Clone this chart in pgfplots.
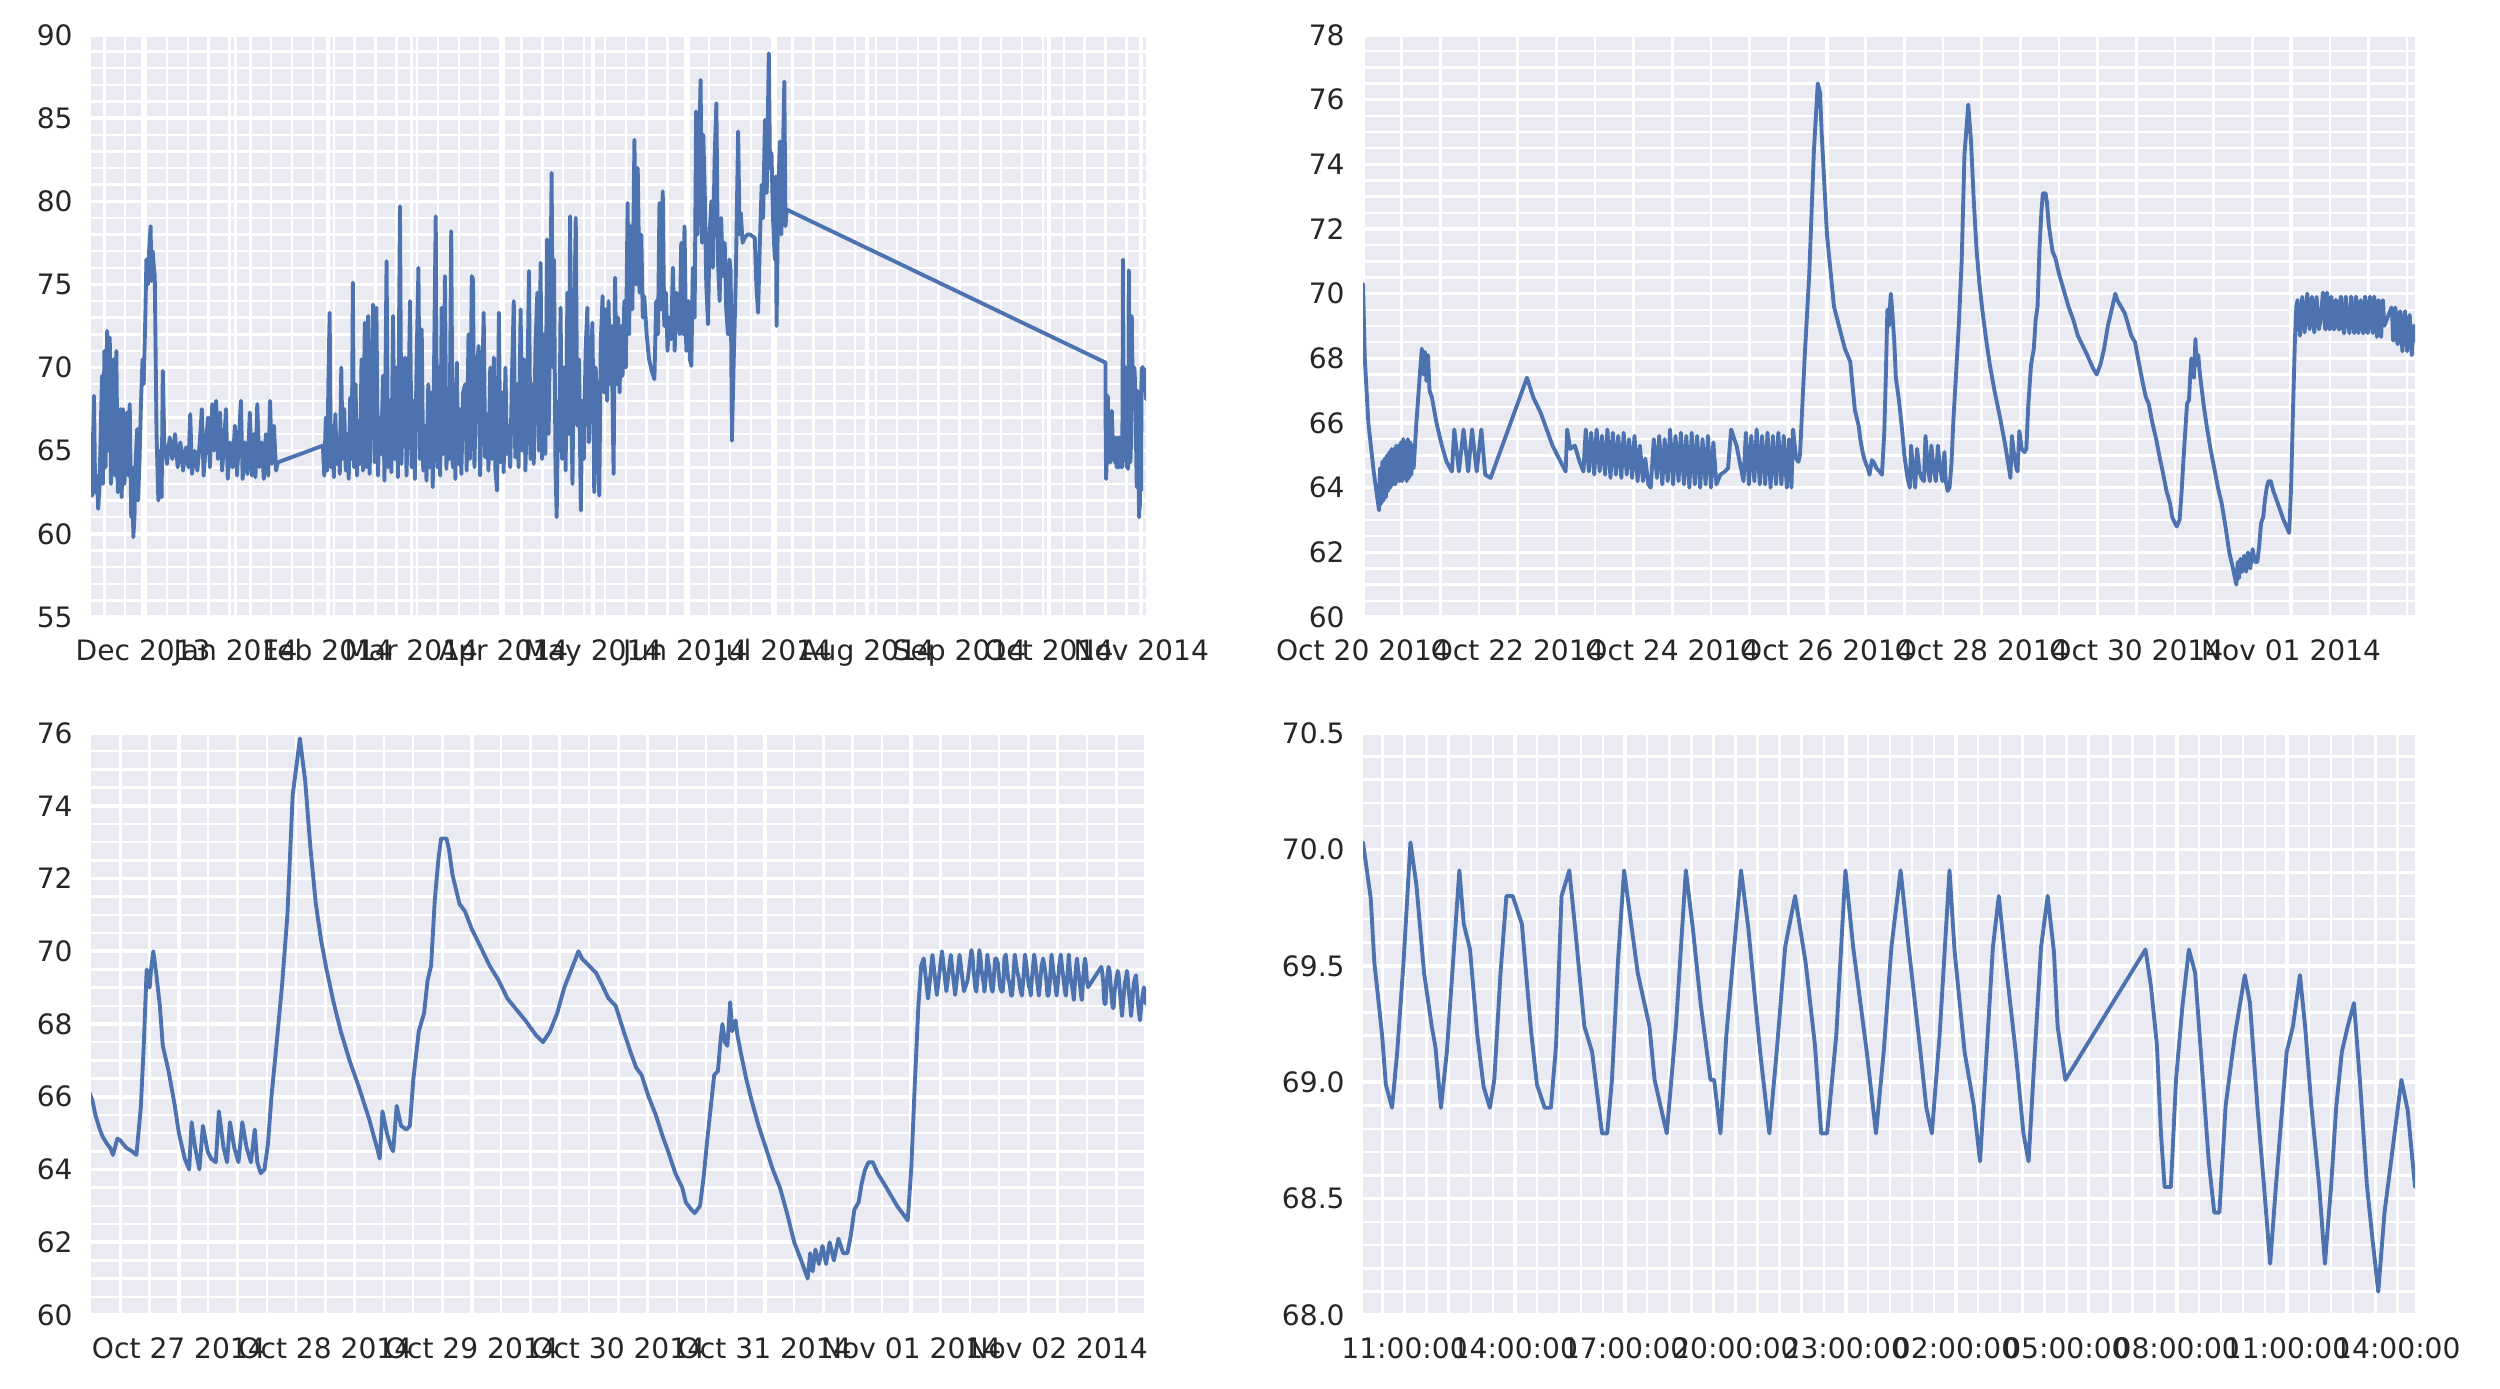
\documentclass[border=0pt]{standalone}
\usepackage{fontspec}
\setmainfont{DejaVu Sans}
\usepackage{pgfplots}
\usepackage{pgfplotstable}
\pgfplotsset{compat=1.18}
\definecolor{sbbg}{HTML}{EAEAF2}
\definecolor{sbblue}{HTML}{4C72B0}
\definecolor{sbtext}{HTML}{262626}

% ---- top-left: days since 2013-11-01 ----
\pgfplotstableread[row sep=\\]{
d v\\
12.5 66.0\\ 12.9 62.3\\ 13.5 68.3\\ 13.9 62.5\\ 14.5 63.5\\ 14.9 61.5\\ 15.4 63.0\\ 15.8 66.5\\ 16.2 69.5\\ 16.5 63.0\\
17.0 71.0\\ 17.4 64.0\\ 17.9 72.2\\ 18.3 65.0\\ 18.8 71.8\\ 19.2 63.0\\ 19.7 67.0\\ 20.1 70.5\\ 20.6 63.5\\ 21.0 71.0\\
21.5 62.5\\ 21.9 66.0\\ 22.4 67.5\\ 22.8 62.2\\ 23.3 67.5\\ 23.7 63.0\\ 24.2 64.5\\ 24.6 67.3\\ 25.1 63.5\\ 25.5 67.8\\
26.0 61.0\\ 26.4 64.0\\ 26.7 59.8\\ 27.1 61.0\\ 27.5 64.5\\ 28.0 66.3\\ 28.3 62.0\\ 28.8 64.5\\ 29.3 68.0\\ 29.8 70.5\\
30.2 69.0\\ 30.7 72.8\\ 31.1 76.5\\ 31.6 75.0\\ 32.0 77.0\\ 32.5 78.5\\ 32.8 75.2\\ 33.2 77.0\\ 33.6 76.0\\ 33.9 75.5\\
34.5 66.0\\ 35.1 62.0\\ 35.6 65.0\\ 36.2 62.2\\ 36.6 69.8\\ 37.1 65.5\\
38.0 64.2\\ 38.9 65.8\\ 39.8 64.5\\ 40.7 66.0\\ 41.6 64.0\\ 42.5 65.5\\ 43.4 63.8\\ 44.3 65.2\\ 45.2 64.0\\ 45.8 67.2\\
46.4 63.6\\ 47.3 65.0\\ 48.2 63.8\\ 49.0 65.5\\ 49.7 67.5\\ 50.3 63.5\\ 51.2 65.8\\ 51.8 67.0\\ 52.4 64.0\\ 53.2 67.8\\
53.8 65.0\\ 54.5 68.0\\ 55.1 64.5\\ 55.8 67.3\\ 56.5 63.8\\ 57.2 65.5\\ 57.8 67.5\\ 58.4 63.3\\ 59.2 65.5\\ 60.0 64.0\\
60.8 66.5\\ 61.5 63.5\\ 62.2 65.8\\ 62.8 68.0\\ 63.4 63.3\\ 64.2 65.5\\ 65.0 63.6\\ 65.8 67.3\\ 66.5 63.5\\ 67.2 66.0\\
67.7 63.4\\ 68.3 67.8\\ 69.0 64.0\\ 69.8 65.5\\ 70.5 63.3\\ 71.2 66.0\\ 72.0 63.5\\ 72.6 68.0\\ 73.2 64.2\\ 73.9 66.5\\
74.6 63.8\\ 75.2 64.3\\ 90.3 65.3\\
90.8 63.5\\ 91.3 67.0\\ 91.8 63.8\\ 92.2 69.5\\ 92.6 73.3\\ 93.0 64.0\\ 93.5 66.5\\ 94.0 63.4\\ 94.5 67.2\\ 95.0 64.2\\
95.5 65.8\\ 96.0 63.6\\ 96.5 70.0\\ 97.0 64.5\\ 97.5 67.5\\ 98.0 63.8\\ 98.5 66.0\\ 99.0 63.3\\ 99.5 68.2\\ 100.0 64.5\\
100.4 75.1\\ 100.8 64.0\\ 101.3 69.0\\ 101.8 63.5\\ 102.3 66.8\\ 102.8 64.2\\ 103.3 70.5\\ 103.8 63.8\\ 104.4 72.7\\ 104.9 64.0\\
105.5 73.1\\ 106.0 63.6\\ 106.6 68.5\\ 107.2 73.8\\ 107.7 64.3\\ 108.3 73.6\\ 108.8 63.5\\ 109.4 67.0\\ 109.9 64.8\\ 110.5 69.5\\
111.0 63.2\\ 111.7 76.4\\ 112.2 64.0\\ 112.8 68.0\\ 113.3 63.7\\ 113.9 73.1\\ 114.4 64.5\\ 115.0 70.0\\ 115.5 63.4\\ 116.2 79.7\\
116.7 64.2\\ 117.3 69.0\\ 117.9 70.6\\ 118.4 63.5\\ 119.0 67.5\\ 119.6 74.0\\ 120.1 64.0\\ 120.7 68.0\\ 121.2 63.3\\ 121.8 70.5\\
122.4 76.0\\ 122.9 64.5\\ 123.5 72.3\\ 124.0 63.8\\ 124.6 66.5\\ 125.1 63.2\\ 125.7 69.0\\ 126.2 64.0\\ 126.7 68.5\\ 127.2 62.8\\
127.7 71.0\\ 128.2 79.1\\ 128.7 64.0\\ 129.2 70.0\\ 129.7 63.5\\ 130.2 73.6\\ 130.7 64.8\\ 131.3 75.5\\ 131.8 63.9\\ 132.3 68.0\\
132.8 64.5\\ 133.4 78.2\\ 133.9 64.0\\ 134.4 69.0\\ 134.8 63.3\\ 135.3 70.3\\ 135.8 64.2\\ 136.3 67.5\\ 136.8 63.6\\ 137.4 68.5\\
138.1 69.0\\ 138.6 63.8\\ 139.2 72.0\\ 139.7 64.5\\ 140.3 75.5\\ 140.7 75.3\\ 141.2 64.0\\ 141.8 69.5\\ 142.6 71.3\\ 143.1 63.5\\
143.7 68.0\\ 144.3 73.3\\ 144.8 64.6\\ 145.4 67.2\\ 145.9 63.8\\ 146.5 70.0\\ 147.1 64.5\\ 147.7 70.6\\ 148.2 63.9\\ 148.8 62.6\\
149.4 73.3\\ 149.9 64.3\\ 150.5 68.5\\ 151.0 63.7\\ 151.6 70.0\\ 152.1 64.8\\ 152.7 66.5\\ 153.2 64.0\\ 153.8 69.5\\ 154.4 74.0\\
154.9 64.6\\ 155.5 69.0\\ 156.0 64.0\\ 156.7 73.5\\ 157.2 65.0\\ 157.8 70.5\\ 158.3 63.8\\ 158.9 68.0\\ 159.5 75.8\\ 160.0 64.5\\
160.6 69.0\\ 161.1 64.2\\ 161.7 71.5\\ 162.3 74.5\\ 162.8 65.0\\ 163.4 76.3\\ 163.9 64.5\\ 164.5 72.0\\ 165.0 64.8\\ 165.6 77.7\\
166.1 66.0\\ 166.6 73.0\\ 167.1 81.7\\ 167.5 70.0\\ 167.9 76.5\\ 168.4 64.0\\ 168.8 61.0\\ 169.3 68.0\\ 169.7 65.0\\ 170.1 73.6\\
170.6 64.5\\ 171.2 70.0\\ 171.8 63.8\\ 172.4 74.5\\ 172.9 66.0\\ 173.3 79.1\\ 173.7 68.0\\ 174.1 63.0\\ 174.6 72.0\\ 175.2 79.0\\
175.7 66.5\\ 176.3 70.5\\ 176.9 61.4\\ 177.4 68.0\\ 177.9 64.5\\ 178.5 71.0\\ 179.1 73.6\\ 179.6 65.5\\ 180.2 70.0\\ 180.8 72.7\\
181.4 62.5\\ 181.9 70.0\\ 182.5 66.0\\ 183.1 62.3\\ 183.6 71.5\\ 184.2 74.3\\ 184.7 68.5\\ 185.2 73.5\\ 185.7 68.0\\ 186.2 74.0\\
186.7 69.0\\ 187.2 72.5\\ 187.9 63.6\\ 188.4 75.4\\ 188.9 69.0\\ 189.4 73.0\\ 189.9 68.5\\ 190.4 72.5\\ 190.9 69.5\\ 191.5 74.0\\
192.0 70.0\\ 192.6 79.9\\ 193.1 72.0\\ 193.6 78.5\\ 194.2 73.5\\ 194.9 83.7\\ 195.4 75.0\\ 196.0 82.0\\ 196.6 74.5\\ 197.2 78.0\\
197.7 73.0\\ 198.2 74.3\\ 199.0 72.0\\ 199.8 70.5\\ 200.7 69.8\\ 201.6 69.3\\ 202.2 74.0\\ 202.8 72.0\\ 203.3 79.9\\ 203.8 73.5\\
204.4 80.6\\ 204.9 72.5\\ 205.5 74.5\\ 206.0 71.0\\ 206.6 73.0\\ 207.2 71.7\\ 207.8 76.0\\ 208.4 71.0\\ 209.0 74.5\\ 209.5 73.1\\
210.1 72.0\\ 210.6 77.5\\ 211.2 72.0\\ 211.7 78.5\\ 212.3 71.0\\ 213.0 74.0\\ 213.5 70.5\\ 214.0 70.1\\ 214.5 76.0\\ 215.1 73.0\\
215.6 85.4\\ 216.1 78.0\\ 216.6 83.0\\ 217.1 87.3\\ 217.6 77.5\\ 218.0 84.0\\ 218.5 80.5\\ 219.0 75.0\\ 219.6 72.6\\ 220.1 78.0\\
220.7 80.0\\ 221.2 76.0\\ 221.8 82.5\\ 222.4 85.9\\ 222.9 76.5\\ 223.5 74.0\\ 224.0 79.0\\ 224.6 75.5\\ 225.2 77.5\\ 225.7 73.5\\
226.3 72.0\\ 226.8 76.5\\ 227.2 75.8\\ 227.6 65.6\\ 228.3 71.0\\ 228.9 75.2\\ 229.7 84.2\\ 230.2 78.0\\ 230.6 79.3\\ 231.2 77.5\\
231.9 77.8\\ 232.8 78.0\\ 233.6 78.0\\ 234.5 77.9\\ 235.3 77.8\\ 235.8 75.0\\ 236.4 73.3\\ 237.0 77.5\\ 237.6 81.0\\ 238.1 79.0\\
238.7 84.9\\ 239.3 80.5\\ 240.0 88.9\\ 240.4 82.0\\ 240.9 82.9\\ 241.4 79.0\\ 242.0 76.5\\ 242.3 81.5\\ 242.6 72.5\\ 243.1 80.0\\
243.7 83.6\\ 244.2 78.0\\ 244.7 82.5\\ 245.2 87.2\\ 245.6 78.5\\ 246.0 79.5\\ 353.0 70.3\\
}\tldata

% ---- Oct 20 onwards: days since 2014-10-20 00:00 ----
\pgfplotstableread[row sep=\\]{
d v\\
0.000 70.3\\ 0.023 68.0\\ 0.069 66.0\\ 0.138 64.5\\ 0.207 63.3\\ 0.22 64.6\\ 0.235 63.5\\ 0.25 64.8\\ 0.265 63.6\\ 0.28 64.9\\
0.295 63.7\\ 0.31 65.0\\ 0.325 63.9\\ 0.34 65.1\\ 0.355 64.0\\ 0.37 65.2\\ 0.385 64.1\\ 0.40 65.2\\ 0.415 64.1\\ 0.43 65.3\\
0.445 64.2\\ 0.46 65.3\\ 0.475 64.2\\ 0.49 65.4\\ 0.505 64.2\\ 0.52 65.5\\ 0.535 64.3\\ 0.55 65.4\\ 0.565 64.2\\ 0.58 65.5\\
0.595 64.3\\ 0.61 65.4\\ 0.625 64.4\\ 0.64 65.3\\ 0.655 64.6\\ 0.69 66.0\\ 0.735 67.5\\ 0.76 68.3\\ 0.78 67.5\\ 0.80 68.2\\
0.82 67.3\\ 0.84 68.1\\ 0.86 67.0\\ 0.89 66.8\\ 0.95 66.0\\ 1.02 65.3\\ 1.08 64.8\\ 1.15 64.5\\ 1.18 65.8\\ 1.24 64.5\\
1.30 65.8\\ 1.36 64.5\\ 1.41 65.8\\ 1.47 64.5\\ 1.53 65.8\\ 1.58 64.4\\ 1.65 64.3\\ 2.12 67.4\\ 2.20 66.8\\ 2.30 66.3\\
2.45 65.3\\ 2.62 64.5\\ 2.64 65.8\\ 2.68 65.2\\ 2.74 65.3\\ 2.80 64.8\\ 2.85 64.5\\
2.88 65.8\\ 2.92 64.5\\ 2.95 65.7\\ 2.99 64.4\\ 3.02 65.8\\ 3.06 64.5\\ 3.09 65.6\\ 3.13 64.4\\ 3.16 65.8\\ 3.20 64.3\\
3.23 65.7\\ 3.27 64.4\\ 3.30 65.6\\ 3.34 64.3\\ 3.37 65.7\\ 3.41 64.4\\ 3.44 65.5\\ 3.48 64.3\\ 3.51 65.6\\ 3.55 64.2\\
3.58 65.3\\ 3.62 64.2\\ 3.65 64.9\\ 3.69 64.1\\ 3.72 64.0\\
3.76 65.5\\ 3.80 64.3\\ 3.83 65.6\\ 3.87 64.1\\ 3.90 65.5\\ 3.94 64.2\\ 3.97 65.8\\ 4.01 64.1\\ 4.04 65.6\\ 4.08 64.2\\
4.11 65.7\\ 4.15 64.1\\ 4.18 65.6\\ 4.22 64.0\\ 4.25 65.7\\ 4.29 64.1\\ 4.32 65.6\\ 4.36 64.0\\ 4.39 65.5\\ 4.43 64.1\\
4.46 65.6\\ 4.50 64.0\\ 4.53 65.4\\ 4.57 64.1\\ 4.62 64.4\\ 4.68 64.5\\ 4.72 64.6\\ 4.76 65.8\\ 4.83 65.3\\ 4.92 64.2\\
4.95 65.7\\ 4.99 64.1\\ 5.02 65.6\\ 5.06 64.2\\ 5.09 65.8\\ 5.13 64.1\\ 5.16 65.6\\ 5.20 64.1\\ 5.23 65.7\\ 5.27 64.0\\
5.30 65.6\\ 5.34 64.1\\ 5.37 65.7\\ 5.41 64.1\\ 5.44 65.6\\ 5.48 64.0\\ 5.51 65.5\\ 5.54 64.0\\ 5.56 65.8\\ 5.60 64.9\\
5.63 64.8\\ 5.65 65.0\\ 5.71 68.0\\ 5.77 70.6\\ 5.83 74.4\\ 5.88 76.5\\ 5.91 76.2\\ 5.93 75.0\\ 6.00 71.8\\ 6.09 69.6\\
6.23 68.3\\ 6.30 67.9\\ 6.36 66.4\\ 6.41 65.9\\ 6.43 65.5\\ 6.46 65.1\\ 6.48 64.9\\ 6.51 64.7\\ 6.53 64.6\\ 6.55 64.4\\
6.58 64.85\\ 6.60 64.8\\ 6.64 64.6\\ 6.68 64.5\\ 6.71 64.4\\ 6.74 65.7\\ 6.76 67.4\\ 6.78 69.5\\ 6.79 69.3\\ 6.80 69.0\\
6.81 69.5\\ 6.825 70.0\\ 6.845 69.4\\ 6.87 68.5\\ 6.89 67.4\\ 6.93 66.7\\ 6.97 65.8\\ 7.00 65.0\\ 7.04 64.3\\ 7.07 64.0\\
7.087 65.3\\ 7.111 64.6\\ 7.14 64.0\\ 7.164 65.2\\ 7.196 64.5\\ 7.22 64.3\\ 7.252 64.2\\ 7.273 65.6\\ 7.305 64.6\\ 7.329 64.2\\
7.349 65.3\\ 7.378 64.6\\ 7.407 64.2\\ 7.433 65.3\\ 7.462 64.6\\ 7.492 64.2\\ 7.518 65.1\\ 7.535 64.2\\ 7.559 63.9\\ 7.584 64.0\\
7.608 64.7\\ 7.632 66.0\\ 7.668 67.5\\ 7.705 69.1\\ 7.741 71.0\\ 7.777 74.3\\ 7.809 75.3\\ 7.826 75.85\\ 7.843 75.3\\ 7.862 74.7\\
7.899 72.8\\ 7.935 71.3\\ 7.971 70.3\\ 8.008 69.5\\ 8.056 68.6\\ 8.105 67.8\\ 8.165 67.0\\ 8.226 66.3\\ 8.298 65.4\\ 8.359 64.5\\
8.371 64.3\\ 8.39 65.6\\ 8.42 65.0\\ 8.449 64.6\\ 8.463 64.5\\ 8.487 65.75\\ 8.517 65.2\\ 8.553 65.1\\ 8.577 65.2\\ 8.601 66.5\\
8.638 67.8\\ 8.674 68.3\\ 8.698 69.2\\ 8.722 69.6\\ 8.747 71.4\\ 8.771 72.5\\ 8.79 73.1\\ 8.827 73.1\\ 8.844 72.8\\ 8.868 72.1\\
8.916 71.3\\ 8.953 71.1\\ 9.001 70.6\\ 9.05 70.2\\ 9.122 69.6\\ 9.183 69.2\\ 9.243 68.7\\ 9.304 68.4\\ 9.365 68.1\\ 9.437 67.7\\
9.486 67.5\\ 9.534 67.8\\ 9.583 68.3\\ 9.631 69.0\\ 9.68 69.5\\ 9.728 70.0\\ 9.752 69.8\\ 9.801 69.6\\ 9.849 69.4\\ 9.886 69.1\\
9.934 68.7\\ 9.982 68.5\\ 10.037 67.8\\ 10.086 67.2\\ 10.122 66.8\\ 10.159 66.6\\ 10.207 66.0\\ 10.256 65.5\\ 10.304 64.9\\ 10.34 64.5\\
10.389 63.9\\ 10.437 63.5\\ 10.461 63.1\\ 10.498 62.9\\ 10.522 62.8\\ 10.558 63.0\\ 10.583 63.8\\ 10.607 64.8\\ 10.631 65.7\\ 10.655 66.6\\
10.68 66.7\\ 10.697 67.5\\ 10.711 68.0\\ 10.728 67.5\\ 10.745 67.4\\ 10.764 68.6\\ 10.777 67.8\\ 10.801 68.1\\ 10.813 67.7\\ 10.837 67.2\\
10.873 66.5\\ 10.91 65.9\\ 10.958 65.2\\ 11.007 64.6\\ 11.055 64.0\\ 11.104 63.5\\ 11.152 62.8\\ 11.201 62.0\\ 11.249 61.5\\ 11.293 61.0\\
11.31 61.7\\ 11.327 61.2\\ 11.346 61.8\\ 11.37 61.4\\ 11.394 61.9\\ 11.419 61.4\\ 11.443 62.0\\ 11.472 61.5\\ 11.503 62.1\\ 11.535 61.7\\
11.564 61.7\\ 11.588 62.2\\ 11.612 62.9\\ 11.641 63.1\\ 11.661 63.6\\ 11.685 64.0\\ 11.709 64.2\\ 11.738 64.2\\ 11.77 63.9\\ 11.831 63.5\\
11.903 63.0\\ 11.94 62.8\\ 11.976 62.6\\ 12.0 64.0\\ 12.024 66.3\\ 12.049 68.5\\ 12.068 69.6\\ 12.085 69.8\\ 12.115 68.7\\ 12.145 69.9\\
12.175 68.8\\ 12.21 70.0\\ 12.24 68.9\\ 12.27 69.9\\ 12.30 68.8\\ 12.33 69.9\\ 12.36 68.9\\ 12.385 69.2\\ 12.4113 70.03\\
}\octdata

% ---- last day: hours since 2014-11-01 00:00 ----
\pgfplotstableread[row sep=\\]{
h v\\
9.87 70.03\\ 10.08 69.79\\ 10.18 69.51\\ 10.29 69.35\\ 10.39 69.20\\ 10.49 68.99\\ 10.66 68.89\\ 10.80 69.13\\ 10.97 69.51\\ 11.16 70.03\\
11.32 69.85\\ 11.53 69.47\\ 11.74 69.24\\ 11.84 69.15\\ 11.99 68.89\\ 12.15 69.13\\ 12.32 69.52\\ 12.49 69.91\\ 12.61 69.68\\ 12.78 69.57\\
12.98 69.20\\ 13.15 68.98\\ 13.32 68.89\\ 13.44 69.01\\ 13.61 69.47\\ 13.77 69.80\\ 13.94 69.80\\ 14.19 69.68\\ 14.44 69.22\\ 14.60 68.99\\
14.81 68.89\\ 14.98 68.89\\ 15.12 69.16\\ 15.27 69.80\\ 15.48 69.91\\ 15.64 69.66\\ 15.89 69.24\\ 16.10 69.13\\ 16.37 68.78\\ 16.51 68.78\\
16.64 69.01\\ 16.80 69.51\\ 16.97 69.91\\ 17.18 69.66\\ 17.34 69.47\\ 17.66 69.24\\ 17.80 69.01\\ 18.13 68.78\\ 18.38 69.24\\ 18.65 69.91\\
18.84 69.66\\ 19.05 69.34\\ 19.32 69.01\\ 19.42 69.01\\ 19.59 68.78\\ 19.75 69.20\\ 20.15 69.91\\ 20.35 69.66\\ 20.67 69.13\\ 20.92 68.78\\
21.12 69.13\\ 21.35 69.58\\ 21.62 69.80\\ 21.91 69.51\\ 22.16 69.16\\ 22.33 68.78\\ 22.49 68.78\\ 22.74 69.20\\ 22.99 69.91\\ 23.20 69.58\\
23.57 69.13\\ 23.82 68.78\\ 24.03 69.13\\ 24.24 69.58\\ 24.49 69.91\\ 24.71 69.58\\ 25.03 69.13\\ 25.19 68.89\\ 25.34 68.78\\ 25.55 69.20\\
25.82 69.91\\ 25.96 69.56\\ 26.23 69.13\\ 26.48 68.90\\ 26.65 68.66\\ 26.83 69.13\\ 27.00 69.58\\ 27.16 69.80\\ 27.35 69.51\\ 27.62 69.13\\
27.83 68.78\\ 27.97 68.66\\ 28.14 69.13\\ 28.31 69.58\\ 28.49 69.80\\ 28.66 69.56\\ 28.76 69.24\\ 28.97 69.01\\ 31.15 69.57\\ 31.30 69.41\\
31.46 69.16\\ 31.57 68.78\\ 31.67 68.55\\ 31.84 68.55\\ 31.98 69.01\\ 32.15 69.32\\ 32.33 69.57\\ 32.50 69.47\\ 32.71 69.01\\ 32.87 68.66\\
33.02 68.44\\ 33.16 68.44\\ 33.33 68.90\\ 33.58 69.20\\ 33.85 69.46\\ 33.99 69.34\\ 34.20 68.88\\ 34.37 68.56\\ 34.54 68.22\\ 34.70 68.56\\
34.99 69.13\\ 35.16 69.24\\ 35.35 69.46\\ 35.49 69.24\\ 35.66 68.90\\ 35.87 68.56\\ 36.03 68.22\\ 36.20 68.56\\ 36.34 68.90\\ 36.49 69.13\\
36.65 69.24\\ 36.82 69.34\\ 36.98 69.01\\ 37.17 68.56\\ 37.32 68.33\\ 37.48 68.10\\ 37.65 68.44\\ 37.82 68.65\\ 37.94 68.80\\ 38.11 69.01\\
38.28 68.88\\ 38.48 68.55\\
}\novdata

\pgfplotsset{
  sb/.style={
    scale only axis,
    anchor=south west,
    axis background/.style={fill=sbbg},
    axis line style={draw=none},
    major tick length=0pt, minor tick length=0pt,
    grid=both,
    major grid style={white, line width=1.0pt},
    minor grid style={white, line width=0.7pt},
    tick label style={font=\fontsize{8}{9.6}\selectfont, text=sbtext},
    /pgf/number format/assume math mode=true,
    yticklabel style={xshift=-0.06cm},
    xticklabel style={yshift=-0.1cm},
  },
  sbline/.style={color=sbblue, line width=1.1pt, line join=round, line cap=round, no markers},
}

\begin{document}
\begin{tikzpicture}
\useasboundingbox (0,0) rectangle (25cm,13.88cm);

% top-left
\begin{axis}[sb, at={(0.91cm,7.71cm)}, width=10.55cm, height=5.82cm,
  xmin=12.5, xmax=366.6, ymin=55, ymax=90,
  xtick={30,61,92,120,151,181,212,242,273,304,334,365},
  xticklabels={Dec 2013,Jan 2014,Feb 2014,Mar 2014,Apr 2014,May 2014,Jun 2014,Jul 2014,Aug 2014,Sep 2014,Oct 2014,Nov 2014},
  minor xtick={17,24,...,366},
  ytick={55,60,...,90}, minor y tick num=4]
\addplot[sbline] table {\tldata};
\addplot[sbline] table[x expr=353+\thisrowno{0}] {\octdata};
\addplot[sbline] table[x expr=365+\thisrowno{0}/24] {\novdata};
\end{axis}

% top-right
\begin{axis}[sb, at={(13.63cm,7.71cm)}, width=10.52cm, height=5.82cm,
  xmin=0, xmax=13.603, ymin=60, ymax=78,
  xtick={0,2,...,12},
  xticklabels={Oct 20 2014,Oct 22 2014,Oct 24 2014,Oct 26 2014,Oct 28 2014,Oct 30 2014,Nov 01 2014},
  minor xtick={0.5,1,...,13.5},
  ytick={60,62,...,78}, minor y tick num=3]
\addplot[sbline] table {\octdata};
\addplot[sbline] table[x expr=12+\thisrowno{0}/24] {\novdata};
\end{axis}

% bottom-left
\begin{axis}[sb, at={(0.91cm,0.73cm)}, width=10.55cm, height=5.82cm,
  xmin=6.40, xmax=13.603, ymin=60, ymax=76,
  xtick={7,8,...,13},
  xticklabels={Oct 27 2014,Oct 28 2014,Oct 29 2014,Oct 30 2014,Oct 31 2014,Nov 01 2014,Nov 02 2014},
  minor xtick={6.6,6.8,...,13.6},
  ytick={60,62,...,76}, minor y tick num=3]
\addplot[sbline] table {\octdata};
\addplot[sbline] table[x expr=12+\thisrowno{0}/24] {\novdata};
\end{axis}

% bottom-right
\begin{axis}[sb, at={(13.63cm,0.73cm)}, width=10.52cm, height=5.82cm,
  xmin=9.87, xmax=38.48, ymin=68, ymax=70.5,
  xtick={11,14,...,38},
  xticklabels={11:00:00,14:00:00,17:00:00,20:00:00,23:00:00,02:00:00,05:00:00,08:00:00,11:00:00,14:00:00},
  minor xtick={10.4,11.0,...,38.0},
  ytick={68,68.5,...,70.5},
  yticklabels={68.0,68.5,69.0,69.5,70.0,70.5},
  minor y tick num=4]
\addplot[sbline] table {\novdata};
\end{axis}
\end{tikzpicture}
\end{document}
